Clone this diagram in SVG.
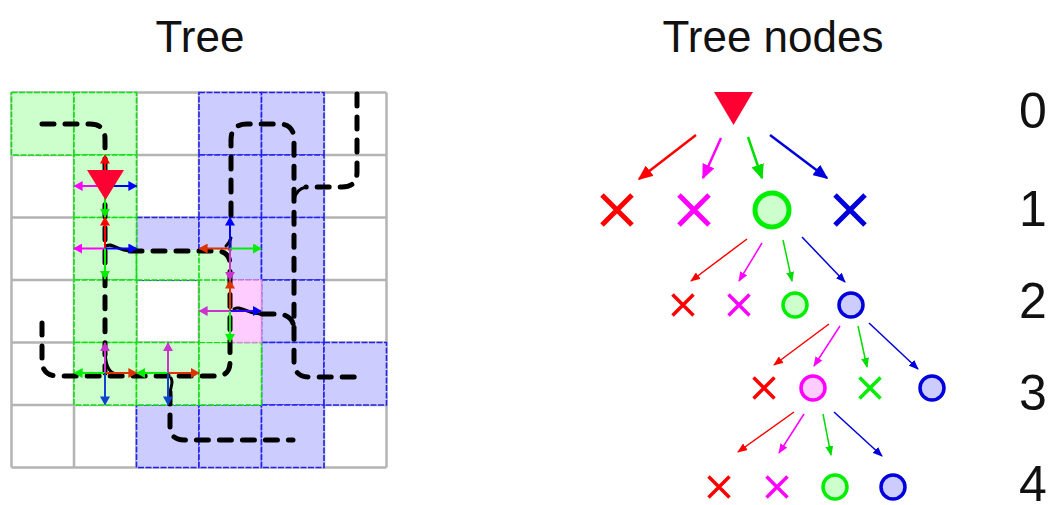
<svg xmlns="http://www.w3.org/2000/svg" width="1051" height="505" viewBox="0 0 1051 505">
  <style>
    .title { font-family: "Liberation Sans", Arial, sans-serif; font-size: 44px; fill: #111; }
    .level { font-family: "Liberation Sans", Arial, sans-serif; font-size: 50px; fill: #111; text-anchor: middle; }
    .grid { stroke: #b4b4b4; stroke-width: 2.5; fill: none; }
    .gcell { fill: #ccffcc; stroke: #11dd11; stroke-width: 1.6; stroke-dasharray: 6 1.5; }
    .bcell { fill: #ccccff; stroke: #2222ee; stroke-width: 1.6; stroke-dasharray: 6 1.5; }
    .pcell { fill: #ffccff; stroke: #dd88dd; stroke-width: 1.6; stroke-dasharray: 6 1.5; }
    .gline { stroke: #11dd11; stroke-width: 1.6; stroke-dasharray: 6 1.5; fill: none; }
    .route { fill: none; stroke: #000; stroke-width: 5; stroke-dasharray: 12 11; stroke-linecap: round; stroke-linejoin: round; }
    .stub { fill: none; stroke: #000; stroke-width: 3; stroke-linecap: round; }
    .arr { fill: none; stroke-width: 2; }
    .t1 { fill: none; stroke-width: 2.5; }
    .t2 { fill: none; stroke-width: 1.5; }
    .x1 { stroke-width: 5; }
    .x2 { stroke-width: 3.5; }
    .cross { fill: none; }
    .ring-g { fill: #ccffcc; stroke: #00ee00; }
    .ring-b { fill: #ccccff; stroke: #0000dd; }
    .ring-p { fill: #ffccff; stroke: #ff00ff; }
  </style>
  <defs>
    <!-- small arrowheads for the grid moves -->
    <marker id="gR" viewBox="0 0 10 10" refX="9" refY="5" markerWidth="9" markerHeight="10" markerUnits="userSpaceOnUse" orient="auto" preserveAspectRatio="none"><path d="M0,0L10,5L0,10z" fill="#ff0000"/></marker>
    <marker id="gO" viewBox="0 0 10 10" refX="9" refY="5" markerWidth="9" markerHeight="10" markerUnits="userSpaceOnUse" orient="auto" preserveAspectRatio="none"><path d="M0,0L10,5L0,10z" fill="#dd3300"/></marker>
    <marker id="gM" viewBox="0 0 10 10" refX="9" refY="5" markerWidth="9" markerHeight="10" markerUnits="userSpaceOnUse" orient="auto" preserveAspectRatio="none"><path d="M0,0L10,5L0,10z" fill="#ff00ff"/></marker>
    <marker id="gP" viewBox="0 0 10 10" refX="9" refY="5" markerWidth="9" markerHeight="10" markerUnits="userSpaceOnUse" orient="auto" preserveAspectRatio="none"><path d="M0,0L10,5L0,10z" fill="#cc33cc"/></marker>
    <marker id="gG" viewBox="0 0 10 10" refX="9" refY="5" markerWidth="9" markerHeight="10" markerUnits="userSpaceOnUse" orient="auto" preserveAspectRatio="none"><path d="M0,0L10,5L0,10z" fill="#00ee00"/></marker>
    <marker id="gB" viewBox="0 0 10 10" refX="9" refY="5" markerWidth="9" markerHeight="10" markerUnits="userSpaceOnUse" orient="auto" preserveAspectRatio="none"><path d="M0,0L10,5L0,10z" fill="#0000ff"/></marker>
    <marker id="gD" viewBox="0 0 10 10" refX="9" refY="5" markerWidth="9" markerHeight="10" markerUnits="userSpaceOnUse" orient="auto" preserveAspectRatio="none"><path d="M0,0L10,5L0,10z" fill="#1144cc"/></marker>
    <!-- arrowheads for the tree edges -->
    <marker id="tR1" viewBox="0 0 10 10" refX="9" refY="5" markerWidth="15" markerHeight="13" markerUnits="userSpaceOnUse" orient="auto" preserveAspectRatio="none"><path d="M0,0L10,5L0,10z" fill="#ff0000"/></marker>
    <marker id="tM1" viewBox="0 0 10 10" refX="9" refY="5" markerWidth="15" markerHeight="13" markerUnits="userSpaceOnUse" orient="auto" preserveAspectRatio="none"><path d="M0,0L10,5L0,10z" fill="#ff00ff"/></marker>
    <marker id="tG1" viewBox="0 0 10 10" refX="9" refY="5" markerWidth="15" markerHeight="13" markerUnits="userSpaceOnUse" orient="auto" preserveAspectRatio="none"><path d="M0,0L10,5L0,10z" fill="#00dd00"/></marker>
    <marker id="tB1" viewBox="0 0 10 10" refX="9" refY="5" markerWidth="15" markerHeight="13" markerUnits="userSpaceOnUse" orient="auto" preserveAspectRatio="none"><path d="M0,0L10,5L0,10z" fill="#0000dd"/></marker>
    <marker id="tR2" viewBox="0 0 10 10" refX="9" refY="5" markerWidth="10" markerHeight="8" markerUnits="userSpaceOnUse" orient="auto" preserveAspectRatio="none"><path d="M0,0L10,5L0,10z" fill="#ff0000"/></marker>
    <marker id="tM2" viewBox="0 0 10 10" refX="9" refY="5" markerWidth="10" markerHeight="8" markerUnits="userSpaceOnUse" orient="auto" preserveAspectRatio="none"><path d="M0,0L10,5L0,10z" fill="#ff00ff"/></marker>
    <marker id="tG2" viewBox="0 0 10 10" refX="9" refY="5" markerWidth="10" markerHeight="8" markerUnits="userSpaceOnUse" orient="auto" preserveAspectRatio="none"><path d="M0,0L10,5L0,10z" fill="#00dd00"/></marker>
    <marker id="tB2" viewBox="0 0 10 10" refX="9" refY="5" markerWidth="10" markerHeight="8" markerUnits="userSpaceOnUse" orient="auto" preserveAspectRatio="none"><path d="M0,0L10,5L0,10z" fill="#0000dd"/></marker>
  </defs>

  <rect width="1051" height="505" fill="#fff"/>

  <text class="title" x="200" y="52" text-anchor="middle">Tree</text>
  <text class="title" x="773" y="52" text-anchor="middle">Tree nodes</text>

  <!-- ===== grid map ===== -->
  <g id="grid">
    <path class="grid" d="M11.5,92.5V467.5M74,92.5V467.5M136.5,92.5V467.5M199,92.5V467.5M261.5,92.5V467.5M324,92.5V467.5M386.5,92.5V467.5M11.5,92.5H386.5M11.5,155H386.5M11.5,217.5H386.5M11.5,280H386.5M11.5,342.5H386.5M11.5,405H386.5M11.5,467.5H386.5"/>
  </g>

  <g id="blue-cells">
    <rect class="bcell" x="199" y="92.5" width="62.5" height="62.5"/>
    <rect class="bcell" x="261.5" y="92.5" width="62.5" height="62.5"/>
    <rect class="bcell" x="199" y="155" width="62.5" height="62.5"/>
    <rect class="bcell" x="261.5" y="155" width="62.5" height="62.5"/>
    <rect class="bcell" x="136.5" y="217.5" width="62.5" height="62.5"/>
    <rect class="bcell" x="199" y="217.5" width="62.5" height="62.5"/>
    <rect class="bcell" x="261.5" y="217.5" width="62.5" height="62.5"/>
    <rect class="bcell" x="261.5" y="280" width="62.5" height="62.5"/>
    <rect class="bcell" x="261.5" y="342.5" width="62.5" height="62.5"/>
    <rect class="bcell" x="324" y="342.5" width="62.5" height="62.5"/>
    <rect class="bcell" x="136.5" y="405" width="62.5" height="62.5"/>
    <rect class="bcell" x="199" y="405" width="62.5" height="62.5"/>
    <rect class="bcell" x="261.5" y="405" width="62.5" height="62.5"/>
  </g>

  <g id="green-cells">
    <rect class="gcell" x="11.5" y="92.5" width="62.5" height="62.5"/>
    <rect class="gcell" x="74" y="92.5" width="62.5" height="62.5"/>
    <rect class="gcell" x="74" y="155" width="62.5" height="62.5"/>
    <rect class="gcell" x="74" y="217.5" width="62.5" height="62.5"/>
    <rect class="gcell" x="74" y="280" width="62.5" height="62.5"/>
    <rect class="gcell" x="74" y="342.5" width="62.5" height="62.5"/>
    <rect class="gcell" x="136.5" y="342.5" width="62.5" height="62.5"/>
    <rect class="gcell" x="199" y="342.5" width="62.5" height="62.5"/>
    <!-- half-cell corridor joining the loop -->
    <rect x="137.3" y="250" width="92.95" height="30" fill="#ccffcc"/>
    <rect x="199.8" y="250" width="30.45" height="92" fill="#ccffcc"/>
    <path class="gline" d="M136.5,250V280H230.25M199,250V342.5"/>
  </g>

  <g id="pink-cell">
    <rect class="pcell" x="230.25" y="280" width="31.25" height="62.5"/>
  </g>

  <!-- ===== dashed routes ===== -->
  <g id="routes">
    <path class="route" d="M42,124H90Q105,124 105,139V373"/>
    <path class="route" d="M130,251H216Q230,251 230,265V362Q230,376 216,376H58Q42,376 42,360V318"/>
    <path class="route" d="M170,392V426Q170,440 184,440H293"/>
    <path class="route" d="M231,215V140Q231,124 247,124H279Q294,124 294,140V362Q294,377 310,377H357"/>
    <path class="route" d="M357,94V172Q357,187 342,187H306"/>
    <path class="route" d="M262,314H280Q294,316 294,330"/>
    <path class="stub" d="M106,246C113,242 116,251 132,251"/>
    <path class="stub" d="M226,246C228,244 230,242 231,238"/>
    <path class="stub" d="M234,309C240,305 246,313 260,314"/>
    <path class="stub" d="M306,187Q296,189 294,200"/>
    <path class="stub" d="M105,352C106,365 108,372 116,374"/>
    <path class="stub" d="M171,378C174,383 170,387 170,394"/>
    <path class="stub" d="M230,240V250"/>
  </g>

  <!-- ===== expansion arrows on the grid ===== -->
  <g id="moves">
    <!-- start cell -->
    <line class="arr" x1="105" y1="186" x2="105" y2="155.5" stroke="#ff0000" marker-end="url(#gR)"/>
    <line class="arr" x1="105" y1="186" x2="74.5" y2="186" stroke="#ff00ff" marker-end="url(#gM)"/>
    <line class="arr" x1="105" y1="186" x2="136.5" y2="186" stroke="#0000ff" marker-end="url(#gB)"/>
    <line class="arr" x1="105" y1="186" x2="105" y2="217" stroke="#00ee00" marker-end="url(#gG)"/>
    <!-- second cell -->
    <line class="arr" x1="105" y1="248.5" x2="105" y2="217.5" stroke="#ff0000" marker-end="url(#gR)"/>
    <line class="arr" x1="105" y1="248.5" x2="74" y2="248.5" stroke="#ff00ff" marker-end="url(#gM)"/>
    <line class="arr" x1="105" y1="248.5" x2="136.5" y2="248.5" stroke="#0000ff" marker-end="url(#gB)"/>
    <line class="arr" x1="105" y1="248.5" x2="105" y2="279" stroke="#00ee00" marker-end="url(#gG)"/>
    <!-- corner cell -->
    <line class="arr" x1="230" y1="248.5" x2="199.5" y2="248.5" stroke="#dd3300" marker-end="url(#gO)"/>
    <line class="arr" x1="230" y1="248.5" x2="230" y2="217.5" stroke="#0000ff" marker-end="url(#gB)"/>
    <line class="arr" x1="230" y1="248.5" x2="261" y2="248.5" stroke="#00ee00" marker-end="url(#gG)"/>
    <line class="arr" x1="230" y1="248.5" x2="230" y2="280" stroke="#cc33cc" marker-end="url(#gP)"/>
    <!-- pink cell -->
    <line class="arr" x1="230" y1="311" x2="230" y2="280.5" stroke="#dd3300" marker-end="url(#gO)"/>
    <line class="arr" x1="230" y1="311" x2="199.5" y2="311" stroke="#cc33cc" marker-end="url(#gP)"/>
    <line class="arr" x1="230" y1="311" x2="261" y2="311" stroke="#3300ff" marker-end="url(#gB)"/>
    <line class="arr" x1="230" y1="311" x2="230" y2="342" stroke="#00ee00" marker-end="url(#gG)"/>
    <!-- lower row -->
    <line class="arr" x1="105" y1="373" x2="105" y2="343" stroke="#cc33cc" marker-end="url(#gP)"/>
    <line class="arr" x1="105" y1="373" x2="74.5" y2="373" stroke="#00ee00" marker-end="url(#gG)"/>
    <line class="arr" x1="105" y1="373" x2="136.5" y2="373" stroke="#dd3300" marker-end="url(#gO)"/>
    <line class="arr" x1="105" y1="373" x2="105" y2="404.5" stroke="#1144cc" marker-end="url(#gD)"/>
    <line class="arr" x1="168" y1="373" x2="168" y2="343" stroke="#cc33cc" marker-end="url(#gP)"/>
    <line class="arr" x1="168" y1="373" x2="137" y2="373" stroke="#00ee00" marker-end="url(#gG)"/>
    <line class="arr" x1="168" y1="373" x2="199" y2="373" stroke="#dd3300" marker-end="url(#gO)"/>
    <line class="arr" x1="168" y1="373" x2="168" y2="404.5" stroke="#1144cc" marker-end="url(#gD)"/>
  </g>

  <g id="start-marker">
    <polygon points="87,170 124,170 105.5,200" fill="#ff0033"/>
  </g>

  <!-- ===== search tree ===== -->
  <g id="tree-edges">
    <line class="t1" x1="696" y1="135" x2="639" y2="179" stroke="#ff0000" marker-end="url(#tR1)"/>
    <line class="t1" x1="721" y1="138" x2="703" y2="178" stroke="#ff00ff" marker-end="url(#tM1)"/>
    <line class="t1" x1="748" y1="137" x2="762" y2="178" stroke="#00dd00" marker-end="url(#tG1)"/>
    <line class="t1" x1="770" y1="135" x2="827" y2="178" stroke="#0000dd" marker-end="url(#tB1)"/>

    <line class="t2" x1="747" y1="239" x2="691" y2="281" stroke="#ff0000" marker-end="url(#tR2)"/>
    <line class="t2" x1="762" y1="243" x2="739" y2="281" stroke="#ff00ff" marker-end="url(#tM2)"/>
    <line class="t2" x1="783" y1="240" x2="792" y2="281" stroke="#00dd00" marker-end="url(#tG2)"/>
    <line class="t2" x1="802" y1="237" x2="845" y2="282" stroke="#0000dd" marker-end="url(#tB2)"/>

    <line class="t2" x1="829" y1="324" x2="774" y2="365" stroke="#ff0000" marker-end="url(#tR2)"/>
    <line class="t2" x1="840" y1="326" x2="814" y2="366" stroke="#ff00ff" marker-end="url(#tM2)"/>
    <line class="t2" x1="858" y1="326" x2="867" y2="367" stroke="#00dd00" marker-end="url(#tG2)"/>
    <line class="t2" x1="869" y1="323" x2="918" y2="369" stroke="#0000dd" marker-end="url(#tB2)"/>

    <line class="t2" x1="794" y1="412" x2="738" y2="452" stroke="#ff0000" marker-end="url(#tR2)"/>
    <line class="t2" x1="804" y1="414" x2="779" y2="453" stroke="#ff00ff" marker-end="url(#tM2)"/>
    <line class="t2" x1="823" y1="414" x2="831" y2="455" stroke="#00dd00" marker-end="url(#tG2)"/>
    <line class="t2" x1="834" y1="412" x2="882" y2="456" stroke="#0000dd" marker-end="url(#tB2)"/>
  </g>

  <g id="root">
    <polygon points="714,92 753,92 733.5,125" fill="#ff0033"/>
  </g>

  <g id="level1">
    <path class="x1 cross" d="M602,195L632,225M632,195L602,225" stroke="#ff0000"/>
    <path class="x1 cross" d="M679,195L709,225M709,195L679,225" stroke="#ff00ff"/>
    <circle class="x1 ring-g" cx="772" cy="210" r="17"/>
    <path class="x1 cross" d="M835,195L865,225M865,195L835,225" stroke="#0000dd"/>
  </g>

  <g id="level2">
    <path class="x2 cross" d="M672.5,294.5L693.5,315.5M693.5,294.5L672.5,315.5" stroke="#ff0000"/>
    <path class="x2 cross" d="M728.5,294.5L749.5,315.5M749.5,294.5L728.5,315.5" stroke="#ff00ff"/>
    <circle class="x2 ring-g" cx="795" cy="305" r="12"/>
    <circle class="x2 ring-b" cx="851" cy="305" r="12"/>
  </g>

  <g id="level3">
    <path class="x2 cross" d="M753.5,377.5L774.5,398.5M774.5,377.5L753.5,398.5" stroke="#ff0000"/>
    <circle class="x2 ring-p" cx="813" cy="388" r="12"/>
    <path class="x2 cross" d="M859.5,377.5L880.5,398.5M880.5,377.5L859.5,398.5" stroke="#00ee00"/>
    <circle class="x2 ring-b" cx="932" cy="388" r="12"/>
  </g>

  <g id="level4">
    <path class="x2 cross" d="M708.5,476.5L729.5,497.5M729.5,476.5L708.5,497.5" stroke="#ff0000"/>
    <path class="x2 cross" d="M766.5,476.5L787.5,497.5M787.5,476.5L766.5,497.5" stroke="#ff00ff"/>
    <circle class="x2 ring-g" cx="835" cy="487" r="12"/>
    <circle class="x2 ring-b" cx="893" cy="487" r="12"/>
  </g>

  <g id="depth-labels">
    <text class="level" x="1033" y="128">0</text>
    <text class="level" x="1033" y="226">1</text>
    <text class="level" x="1033" y="318">2</text>
    <text class="level" x="1033" y="410">3</text>
    <text class="level" x="1033" y="501">4</text>
  </g>
</svg>
